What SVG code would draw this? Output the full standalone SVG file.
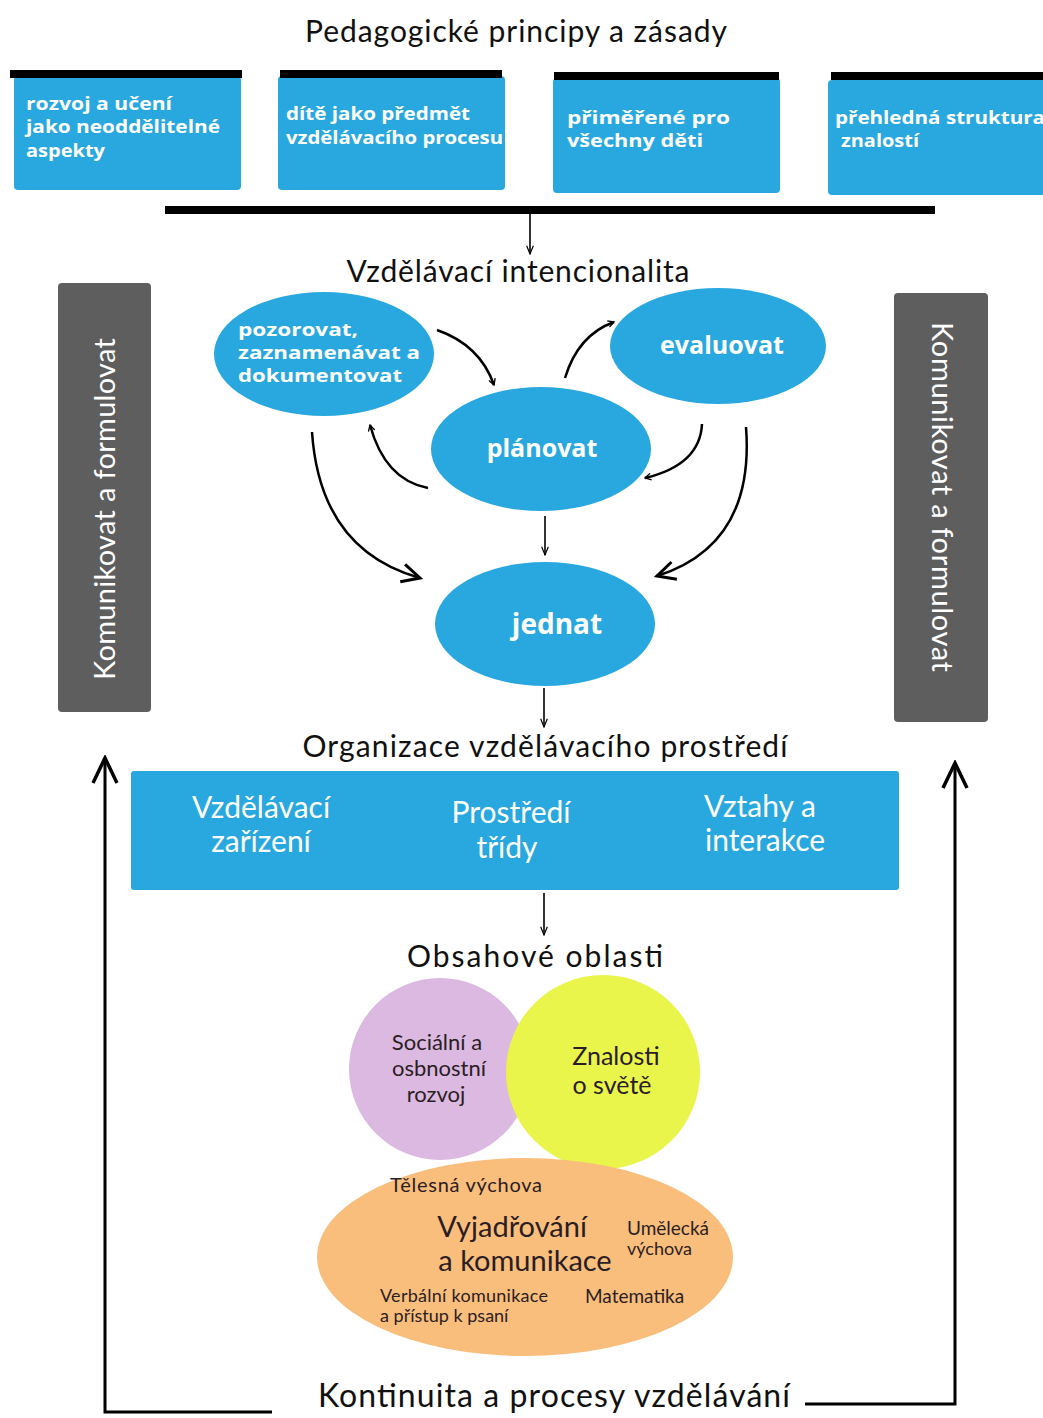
<svg xmlns="http://www.w3.org/2000/svg" width="1043" height="1418" viewBox="0 0 1043 1418">
<style>
text{font-family:Lato,"Open Sans","DejaVu Sans",sans-serif}
.h{font-size:30px;fill:#111;text-anchor:middle}
.bx{fill:#29a8e0}
.bt{font-family:"Open Sans","DejaVu Sans",sans-serif;font-size:18.5px;font-weight:bold;fill:#fff}
.bar{fill:#000}
.el{fill:#29a8e0}
.et{font-family:"Open Sans","DejaVu Sans",sans-serif;font-weight:bold;fill:#fff;text-anchor:middle}
.gr{fill:#5e5e5e}
.gt{font-size:29px;fill:#fff;text-anchor:middle}
.wt{font-size:30px;fill:#fff;text-anchor:middle}
.dk{fill:#2b1d24}
.c{fill:none;stroke:#000;stroke-width:2.5}
.t{fill:none;stroke:#000;stroke-width:1.6}
.fb{fill:none;stroke:#000;stroke-width:3}
</style>
<defs>
<marker id="ah" viewBox="0 0 12 12" refX="10" refY="6" markerWidth="8" markerHeight="8" orient="auto" markerUnits="userSpaceOnUse">
<path d="M1,1 L10,6 L1,11" fill="none" stroke="#000" stroke-width="2"/>
</marker>
<marker id="ahb" viewBox="0 0 24 24" refX="20" refY="12" markerWidth="24" markerHeight="24" orient="auto" markerUnits="userSpaceOnUse">
<path d="M2,3 L20,12 L2,21" fill="none" stroke="#000" stroke-width="3"/>
</marker>
<marker id="ahs" viewBox="0 0 12 12" refX="11" refY="6" markerWidth="10" markerHeight="10" orient="auto" markerUnits="userSpaceOnUse">
<path d="M1,2 L11,6 L1,10" fill="none" stroke="#000" stroke-width="1.4"/>
</marker>
<marker id="fa" viewBox="0 0 30 30" refX="27" refY="15" markerWidth="30" markerHeight="30" orient="auto" markerUnits="userSpaceOnUse">
<path d="M2,3 L27,15 L2,27" fill="none" stroke="#000" stroke-width="3.5"/>
</marker>
</defs>

<text class="h" x="516" y="42" textLength="422" lengthAdjust="spacing">Pedagogické principy a zásady</text>

<g id="p1">
<rect class="bx" x="14" y="76" width="227" height="114" rx="4"/>
<rect class="bar" x="10" y="70" width="232" height="8"/>
<text class="bt" x="26" y="110" textLength="146" lengthAdjust="spacingAndGlyphs">rozvoj a učení</text>
<text class="bt" x="26" y="133" textLength="194" lengthAdjust="spacingAndGlyphs">jako neoddělitelné</text>
<text class="bt" x="26" y="157" textLength="79" lengthAdjust="spacingAndGlyphs">aspekty</text>
</g>
<g id="p2">
<rect class="bx" x="278" y="76" width="227" height="114" rx="4"/>
<rect class="bar" x="280" y="70" width="222" height="8"/>
<text class="bt" x="286" y="120" textLength="184" lengthAdjust="spacingAndGlyphs">dítě jako předmět</text>
<text class="bt" x="286" y="144" textLength="217" lengthAdjust="spacingAndGlyphs">vzdělávacího procesu</text>
</g>
<g id="p3">
<rect class="bx" x="553" y="78" width="227" height="115" rx="4"/>
<rect class="bar" x="554" y="72" width="225" height="8"/>
<text class="bt" x="567" y="124" textLength="163" lengthAdjust="spacingAndGlyphs">přiměřené pro</text>
<text class="bt" x="567" y="147" textLength="136" lengthAdjust="spacingAndGlyphs">všechny děti</text>
</g>
<g id="p4">
<rect class="bx" x="828" y="80" width="220" height="115" rx="4"/>
<rect class="bar" x="831" y="72" width="212" height="8"/>
<text class="bt" x="835" y="124" textLength="210" lengthAdjust="spacingAndGlyphs">přehledná struktura</text>
<text class="bt" x="841" y="147" textLength="78" lengthAdjust="spacingAndGlyphs">znalostí</text>
</g>

<rect class="bar" x="165" y="206" width="770" height="8"/>

<text class="h" x="518" y="282" textLength="343" lengthAdjust="spacing">Vzdělávací intencionalita</text>

<g id="left-bar">
<rect class="gr" x="58" y="283" width="93" height="429" rx="4"/>
<text class="gt" transform="translate(115,509) rotate(-90)" textLength="342" lengthAdjust="spacing">Komunikovat a formulovat</text>
</g>
<g id="right-bar">
<rect class="gr" x="894" y="293" width="94" height="429" rx="4"/>
<text class="gt" transform="translate(932,497) rotate(90)" textLength="350" lengthAdjust="spacing">Komunikovat a formulovat</text>
</g>

<g id="pozorovat">
<ellipse class="el" cx="324" cy="354" rx="110" ry="62"/>
<text class="bt" x="238" y="336" textLength="120" lengthAdjust="spacingAndGlyphs">pozorovat,</text>
<text class="bt" x="238" y="359" textLength="182" lengthAdjust="spacingAndGlyphs">zaznamenávat a</text>
<text class="bt" x="238" y="382" textLength="164" lengthAdjust="spacingAndGlyphs">dokumentovat</text>
</g>
<g id="evaluovat">
<ellipse class="el" cx="718" cy="346" rx="108" ry="58"/>
<text class="et" x="722" y="354" font-size="25">evaluovat</text>
</g>
<g id="planovat">
<ellipse class="el" cx="541" cy="449" rx="110" ry="62"/>
<text class="et" x="542" y="457" font-size="25">plánovat</text>
</g>
<g id="jednat">
<ellipse class="el" cx="545" cy="624" rx="110" ry="62"/>
<text class="et" x="557" y="634" font-size="28">jednat</text>
</g>

<text class="h" x="545" y="757" textLength="485" lengthAdjust="spacing">Organizace vzdělávacího prostředí</text>

<g id="organizace">
<rect class="bx" x="131" y="771" width="768" height="119" rx="3"/>
<text class="wt" x="261" y="818">Vzdělávací</text>
<text class="wt" x="261" y="852">zařízení</text>
<text class="wt" x="511" y="823">Prostředí</text>
<text class="wt" x="507" y="858">třídy</text>
<text class="wt" x="760" y="817">Vztahy a</text>
<text class="wt" x="765" y="851">interakce</text>
</g>

<text class="h" x="535" y="967" textLength="256" lengthAdjust="spacing">Obsahové oblasti</text>

<g id="socialni">
<circle cx="440" cy="1069" r="91" fill="#dbb9e1"/>
</g>
<g id="znalosti">
<circle cx="603" cy="1072" r="97" fill="#e9f54a"/>
<text class="dk" x="616" y="1065" font-size="25" text-anchor="middle">Znalosti</text>
<text class="dk" x="612" y="1094" font-size="25" text-anchor="middle">o světě</text>
</g>
<g id="socialni-text">
<text class="dk" x="437" y="1050" font-size="22" text-anchor="middle">Sociální a</text>
<text class="dk" x="439" y="1076" font-size="22" text-anchor="middle">osbnostní</text>
<text class="dk" x="436" y="1102" font-size="22" text-anchor="middle">rozvoj</text>
</g>
<g id="vyjadrovani">
<ellipse cx="525" cy="1257" rx="208" ry="99" fill="#f9be7c"/>
<text class="dk" x="390" y="1192" font-size="20" textLength="152" lengthAdjust="spacing">Tělesná výchova</text>
<text class="dk" x="512" y="1237" font-size="29" text-anchor="middle">Vyjadřování</text>
<text class="dk" x="525" y="1271" font-size="29" text-anchor="middle">a komunikace</text>
<text class="dk" x="627" y="1235" font-size="19">Umělecká</text>
<text class="dk" x="627" y="1255" font-size="18">výchova</text>
<text class="dk" x="380" y="1302" font-size="18" textLength="168" lengthAdjust="spacing">Verbální komunikace</text>
<text class="dk" x="380" y="1322" font-size="18">a přístup k psaní</text>
<text class="dk" x="585" y="1303" font-size="19">Matematika</text>
</g>

<text class="h" x="554" y="1407" style="font-size:32px" textLength="472" lengthAdjust="spacing">Kontinuita a procesy vzdělávání</text>

<g id="connectors">
<path class="t" d="M530,214 L530,254" marker-end="url(#ahs)"/>
<path class="c" d="M437,330 Q480,345 494,385" marker-end="url(#ah)"/>
<path class="c" d="M565,378 Q578,335 614,322" marker-end="url(#ah)"/>
<path class="c" d="M428,488 Q385,480 370,425" marker-end="url(#ah)"/>
<path class="c" d="M702,424 Q700,465 645,478" marker-end="url(#ah)"/>
<path class="c" d="M312,432 Q320,550 420,578" stroke-width="3" marker-end="url(#ahb)"/>
<path class="c" d="M746,427 Q755,545 657,576" marker-end="url(#ahb)"/>
<path class="t" d="M545,516 L545,555" marker-end="url(#ahs)"/>
<path class="t" d="M544,688 L544,727" marker-end="url(#ahs)"/>
<path class="t" d="M544,893 L544,935" marker-end="url(#ahs)"/>
<path class="fb" d="M272,1412 L105,1412 L105,758" marker-end="url(#fa)"/>
<path class="fb" d="M805,1404 L955,1404 L955,763" marker-end="url(#fa)"/>
</g>
</svg>
